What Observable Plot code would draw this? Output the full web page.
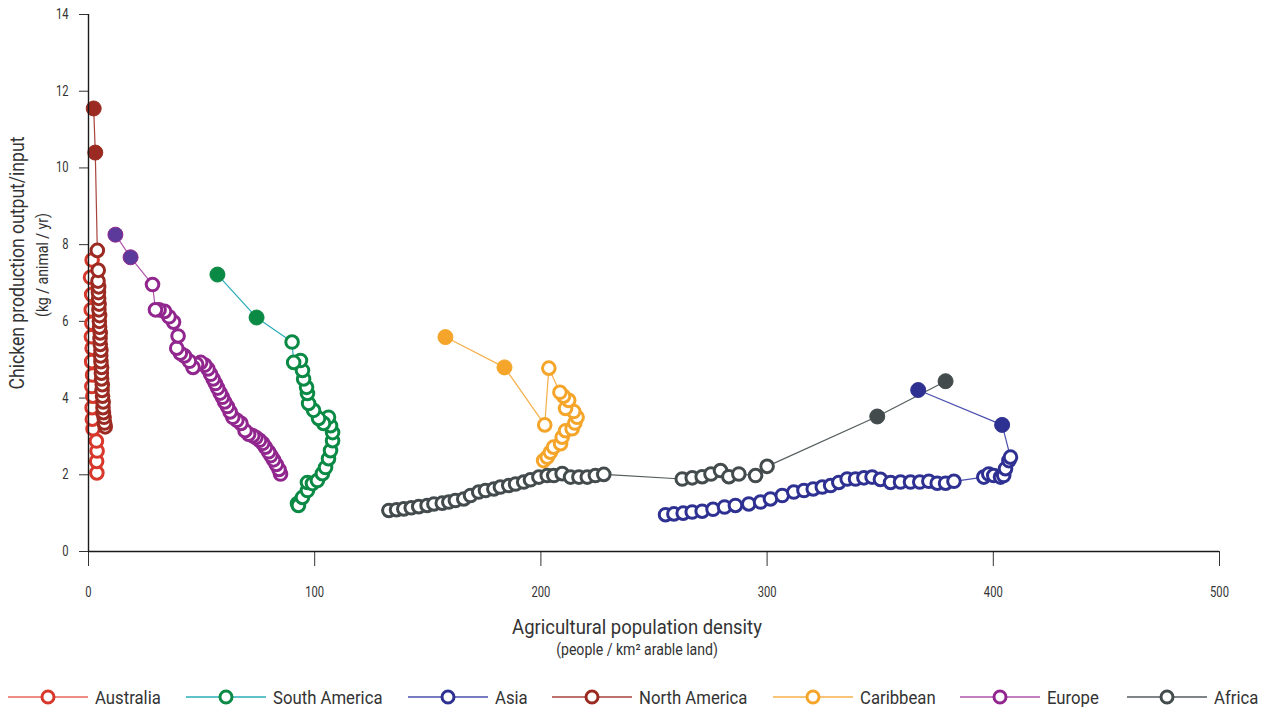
<!DOCTYPE html>
<html>
<head>
<meta charset="utf-8">
<script src="https://cdn.jsdelivr.net/npm/d3@7"></script>
<script src="https://cdn.jsdelivr.net/npm/@observablehq/plot@0.6"></script>
<style>
  html, body { margin: 0; padding: 0; background: #fff; }
  body { width: 1271px; height: 707px; overflow: hidden; font-family: Roboto, 'Liberation Sans', sans-serif; color: #333; }
  #chart { position: relative; width: 1271px; height: 665px; }
  #legend { position: relative; width: 1271px; height: 42px; }
  .item { position: absolute; top: 21px; height: 22px; display: flex; align-items: center; font-size: 19px; color: #333; white-space: nowrap; }
  .item svg { margin-right: 7px; flex: none; }
  .item span { display: inline-block; transform: scaleX(0.88); transform-origin: left center; }
</style>
</head>
<body>
<div id="chart"></div>
<div id="legend"></div>
<script>
// ---- Data (agricultural population density, chicken output/input), earliest -> latest ----
const regions = ["Australia", "South America", "Asia", "North America", "Caribbean", "Europe", "Africa"];
const pointColors = ["#d7382b", "#0b8a45", "#2e3192", "#9b2b22", "#f4a52a", "#91278e", "#434b4d"];
const lineColors = ["#e8675d", "#2aacb8", "#4a4fae", "#a8443c", "#f6b04a", "#b055ae", "#555d5f"];
const projectedFill = ["#d7382b", "#0b8a45", "#2e3192", "#9b2b22", "#f4a52a", "#5b3a9c", "#434b4d"];

const australia = [[3.7,2.05],[3.6,2.35],[3.8,2.62],[3.5,2.88],[2.0,3.2],[1.7,3.45],[1.6,3.75],[1.9,4.05],[1.5,4.3],[1.8,4.6],[1.4,4.95],[1.6,5.3],[1.3,5.6],[1.5,5.95],[1.2,6.3],[1.4,6.7],[0.9,7.15],[1.6,7.6]];
const australiaProjected = [];

const southAmerica = [[92.4,1.25],[92.8,1.2],[94.6,1.41],[96.8,1.59],[96.8,1.8],[99.0,1.77],[101.2,1.85],[103.4,2.03],[104.8,2.19],[106.1,2.42],[107.0,2.63],[107.9,2.89],[107.9,3.1],[107.0,3.28],[106.1,3.5],[103.9,3.34],[101.7,3.47],[99.5,3.68],[97.3,3.86],[96.8,4.12],[96.4,4.28],[95.1,4.5],[94.6,4.72],[93.7,4.98],[90.7,4.93],[90.0,5.46]];
const southAmericaProjected = [[74.3,6.1],[57.0,7.22]];

const asia = [[255.1,0.96],[258.8,0.98],[262.9,1.0],[266.9,1.03],[271.3,1.05],[276.1,1.1],[281.2,1.16],[286.0,1.2],[291.9,1.24],[297.1,1.29],[301.5,1.37],[306.7,1.46],[311.8,1.55],[316.3,1.59],[320.4,1.63],[324.4,1.68],[328.1,1.72],[331.7,1.8],[335.4,1.89],[339.1,1.89],[342.8,1.92],[346.4,1.94],[350.1,1.88],[354.6,1.8],[359.0,1.81],[363.4,1.81],[367.5,1.81],[371.5,1.83],[375.2,1.78],[378.9,1.78],[382.6,1.83],[395.8,1.94],[398.0,2.02],[400.2,1.98],[403.2,1.94],[404.6,1.98],[405.4,2.16],[406.9,2.37],[407.6,2.46]];
const asiaProjected = [[403.9,3.3],[366.8,4.21]];

const northAmerica = [[7.4,3.25],[7.1,3.35],[6.9,3.5],[6.6,3.62],[6.4,3.75],[6.5,3.9],[6.2,4.05],[6.0,4.2],[6.1,4.35],[5.8,4.5],[5.7,4.65],[5.8,4.8],[5.5,4.95],[5.4,5.1],[5.5,5.25],[5.2,5.4],[5.1,5.55],[5.2,5.7],[4.9,5.85],[4.8,6.0],[4.9,6.15],[4.6,6.3],[4.7,6.45],[4.5,6.6],[4.4,6.75],[4.5,6.9],[4.2,7.05],[4.3,7.33],[3.9,7.85]];
const northAmericaProjected = [[3.0,10.4],[2.3,11.55]];

const caribbean = [[201.2,2.37],[202.8,2.46],[204.2,2.59],[205.6,2.72],[208.7,2.81],[209.4,2.98],[210.9,3.15],[213.8,3.2],[215.0,3.35],[216.0,3.5],[214.5,3.65],[210.9,3.73],[212.3,3.94],[210.0,4.05],[208.4,4.15],[203.5,4.78],[201.7,3.3]];
const caribbeanProjected = [[183.9,4.8],[157.8,5.59]];

const europe = [[84.9,2.02],[84.2,2.14],[83.0,2.27],[81.8,2.39],[80.6,2.5],[79.6,2.6],[78.2,2.72],[77.0,2.82],[75.6,2.9],[74.0,2.97],[72.6,3.02],[70.8,3.06],[69.2,3.15],[67.4,3.34],[65.6,3.42],[63.8,3.5],[62.6,3.64],[61.4,3.78],[60.2,3.9],[59.2,4.02],[58.2,4.13],[57.1,4.26],[56.1,4.38],[55.1,4.5],[54.0,4.62],[52.8,4.76],[51.4,4.86],[49.6,4.93],[47.8,4.88],[46.2,4.8],[44.6,4.96],[42.4,5.1],[40.6,5.17],[39.0,5.3],[39.6,5.62],[37.6,5.98],[35.6,6.12],[33.6,6.26],[31.2,6.3],[29.6,6.3],[28.3,6.96]];
const europeProjected = [[18.6,7.67],[11.9,8.26]];

const africa = [[132.8,1.07],[136.2,1.09],[139.4,1.11],[142.7,1.14],[146.0,1.17],[149.7,1.2],[152.7,1.24],[156.4,1.26],[159.3,1.29],[162.2,1.33],[165.9,1.37],[168.9,1.46],[172.5,1.55],[175.5,1.59],[179.2,1.63],[182.1,1.68],[185.8,1.72],[188.8,1.76],[192.4,1.81],[195.4,1.87],[199.1,1.94],[202.8,1.98],[205.7,1.98],[209.4,2.03],[213.1,1.94],[216.8,1.94],[220.5,1.94],[224.1,1.98],[227.8,2.01],[262.5,1.89],[266.9,1.92],[271.3,1.95],[275.2,2.02],[279.4,2.11],[283.1,1.95],[287.5,2.02],[294.9,1.98],[300.0,2.22]];
const africaProjected = [[348.7,3.52],[378.9,4.44]];

const xTicks = [0, 100, 200, 300, 400, 500];
const yTicks = [0, 2, 4, 6, 8, 10, 12, 14];
const xTitle = "Agricultural population density";
const xSubtitle = "(people / km² arable land)";
const yTitle = "Chicken production output/input";
const ySubtitle = "(kg / animal / yr)";

// ---- Build series ----
const observed = [australia, southAmerica, asia, northAmerica, caribbean, europe, africa];
const projected = [australiaProjected, southAmericaProjected, asiaProjected, northAmericaProjected, caribbeanProjected, europeProjected, africaProjected];
const series = regions.map((name, i) => ({
  name,
  obs: observed[i].map(([x, y]) => ({x, y})),
  proj: projected[i].map(([x, y]) => ({x, y}))
}));

const FONT = "Roboto, 'Liberation Sans', sans-serif";

const marks = [];
// connecting lines (below all dots)
series.forEach((s, i) => {
  marks.push(Plot.line([...s.obs, ...s.proj], {x: "x", y: "y", stroke: lineColors[i], strokeWidth: 1.2}));
});
// dots
series.forEach((s, i) => {
  marks.push(Plot.dot(s.obs, {x: "x", y: "y", r: 6.3, stroke: pointColors[i], strokeWidth: 3, fill: "white"}));
  marks.push(Plot.dot(s.proj, {x: "x", y: "y", r: 7.5, stroke: pointColors[i], strokeWidth: 1, fill: projectedFill[i]}));
});
// axis lines
marks.push(Plot.ruleX([0], {stroke: "#1a1a1a", strokeWidth: 1.4}));
marks.push(Plot.ruleY([0], {stroke: "#1a1a1a", strokeWidth: 1.4}));
// axis titles
marks.push(Plot.text([xTitle], {frameAnchor: "bottom", textAnchor: "middle", text: d => d, dx: -17, dy: 82, fontSize: 21, fill: "#333", ariaLabel: "title"}));
marks.push(Plot.text([xSubtitle], {frameAnchor: "bottom", textAnchor: "middle", text: d => d, dx: -17, dy: 103, fontSize: 16, fill: "#333", ariaLabel: "subtitle"}));
marks.push(Plot.text([yTitle], {frameAnchor: "left", textAnchor: "middle", text: d => d, rotate: -90, dx: -71, dy: -20, fontSize: 20, fill: "#333", ariaLabel: "title"}));
marks.push(Plot.text([ySubtitle], {frameAnchor: "left", textAnchor: "middle", text: d => d, rotate: -90, dx: -46, dy: -18, fontSize: 16, fill: "#333", ariaLabel: "subtitle"}));

const chart = Plot.plot({
  width: 1271,
  height: 665,
  marginLeft: 88,
  marginRight: 52,
  marginTop: 14,
  marginBottom: 114,
  style: {fontFamily: FONT, fontSize: "14px", color: "#333", background: "white", overflow: "visible"},
  x: {domain: [0, 500], ticks: xTicks, tickSize: 15, tickPadding: 21, label: null},
  y: {domain: [0, 14], ticks: yTicks, tickSize: 9, tickPadding: 11, label: null},
  marks
});
document.getElementById("chart").appendChild(chart);

// condense the text horizontally (the reference uses a condensed face)
chart.querySelectorAll("text").forEach(t => {
  const isTick = !!t.closest('g[aria-label$="tick label"]');
  const isSub = !!t.closest('g[aria-label="subtitle"]');
  const k = isTick ? 0.8 : isSub ? 0.86 : 0.88;
  const tr = t.getAttribute("transform");
  if (tr) {
    t.setAttribute("transform", `${tr} scale(${k},1)`);
  } else {
    const x = +(t.getAttribute("x") || 0), y = +(t.getAttribute("y") || 0);
    t.removeAttribute("x"); t.removeAttribute("y");
    t.setAttribute("transform", `translate(${x},${y}) scale(${k},1)`);
  }
});

// ---- Legend ----
const legendLeft = [8, 186, 408, 552, 773, 960, 1127];
const legend = document.getElementById("legend");
regions.forEach((name, i) => {
  const item = document.createElement("div");
  item.className = "item";
  item.style.left = legendLeft[i] + "px";
  item.innerHTML =
    `<svg width="80" height="20" viewBox="0 0 80 20">` +
    `<line x1="0" y1="10" x2="80" y2="10" stroke="${lineColors[i]}" stroke-width="1.5"/>` +
    `<circle cx="40" cy="10" r="6" fill="white" stroke="${pointColors[i]}" stroke-width="3"/>` +
    `</svg><span>${name}</span>`;
  legend.appendChild(item);
});
</script>
</body>
</html>
